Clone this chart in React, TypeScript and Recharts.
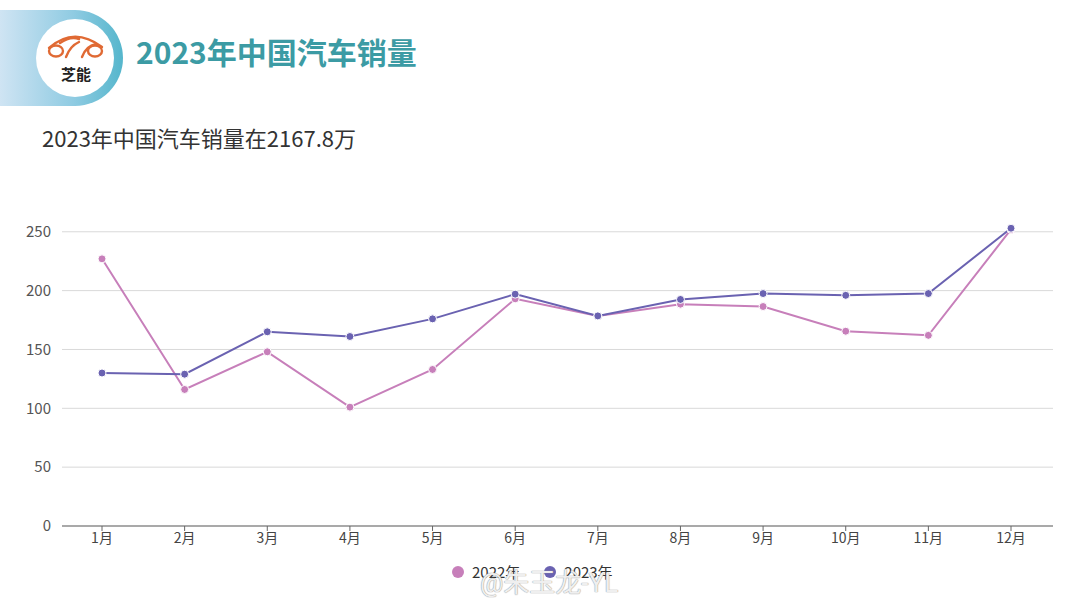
import React from "react"
import { LineChart, Line, XAxis, YAxis, CartesianGrid } from "recharts"

const months = ["1月", "2月", "3月", "4月", "5月", "6月", "7月", "8月", "9月", "10月", "11月", "12月"]
const sales2022 = [227, 116, 148, 101, 133, 193, 178.5, 188.5, 186.5, 165.5, 162, 252]
const sales2023 = [130, 129, 165, 161, 176, 197, 178.5, 192.5, 197.5, 196, 197.5, 253]
const yTicks = [0, 50, 100, 150, 200, 250]
const yMax = 260

const series = [
  { key: "y2022", name: "2022年", color: "#c77fba", values: sales2022 },
  { key: "y2023", name: "2023年", color: "#6a62b1", values: sales2023 },
]

const data = months.map((m, i) => ({ month: m, y2022: sales2022[i], y2023: sales2023[i] }))

const font = '"Noto Sans CJK SC", "Noto Sans", sans-serif'

function Logo() {
  return (
    <svg width={1080} height={120} style={{ position: "absolute", left: 0, top: 0 }}>
      <defs>
        <linearGradient id="band" x1="0" x2="1" y1="0" y2="0">
          <stop offset="0" stopColor="#cfe4f3" />
          <stop offset="0.6" stopColor="#8fcbe2" />
          <stop offset="1" stopColor="#55b6cc" />
        </linearGradient>
      </defs>
      <path d="M0 10 H75 A48 48 0 0 1 75 106 H0 Z" fill="url(#band)" />
      <circle cx={75} cy={58} r={39} fill="#ffffff" />
      <g fill="none" stroke="#e06a34" strokeWidth={2.4} strokeLinecap="round">
        <path d="M49 48 Q74 26 102 47" />
        <path d="M60 43 Q70 36 79 39" />
        <ellipse cx={56} cy={51} rx={7} ry={5.5} />
        <ellipse cx={95} cy={51} rx={7} ry={5.5} />
        <path d="M66 57 Q70 46 79 42" />
        <path d="M82 57 Q86 46 96 44" />
      </g>
      <text x={76} y={80} textAnchor="middle" fontFamily={font} fontSize={15} fontWeight={700} fill="#222">
        芝能
      </text>
      <text x={136} y={64} fontFamily={font} fontSize={30} fontWeight={700} fill="#3c9ba4">
        2023年中国汽车销量
      </text>
    </svg>
  )
}

export default function App() {
  return (
    <div style={{ position: "absolute", left: 0, top: 0, width: 1080, height: 604, background: "#fff", fontFamily: font, overflow: "hidden" }}>
      <Logo />
      <div style={{ position: "absolute", left: 42, top: 121, fontSize: 22, color: "#333", whiteSpace: "nowrap" }}>
        2023年中国汽车销量在2167.8万
      </div>
      <div style={{ position: "absolute", left: 0, top: 0 }}>
        <LineChart width={1080} height={604} data={data} margin={{ top: 220, right: 27, bottom: 48, left: 0 }}>
          <CartesianGrid
            vertical={false}
            stroke="#d9d9d9"
            horizontalCoordinatesGenerator={({ yAxis, offset }: any) =>
              yTicks.map((t) =>
                yAxis && typeof yAxis.scale === "function"
                  ? yAxis.scale(t)
                  : offset.top + offset.height * (1 - t / yMax)
              )
            }
          />
          <XAxis
            dataKey="month"
            padding={{ left: 40, right: 42 }}
            height={30}
            tick={{ fill: "#444", fontSize: 14, fontFamily: font }}
            tickSize={5}
            axisLine={{ stroke: "#666" }}
            tickLine={{ stroke: "#666" }}
          />
          <YAxis
            domain={[0, yMax]}
            ticks={yTicks}
            width={62}
            axisLine={false}
            tickLine={false}
            tickMargin={5}
            tick={{ fill: "#555", fontSize: 15, fontFamily: font }}
          />
          {series.map((s) => (
            <Line
              key={s.key}
              dataKey={s.key}
              name={s.name}
              stroke={s.color}
              strokeWidth={2}
              dot={{ r: 4, fill: s.color, stroke: "#fff", strokeWidth: 1 }}
              isAnimationActive={false}
            />
          ))}
        </LineChart>
      </div>
      <div style={{ position: "absolute", left: 452, top: 561, display: "flex", alignItems: "center", fontSize: 15, color: "#333" }}>
        {series.map((s) => (
          <div key={s.key} style={{ display: "flex", alignItems: "center", marginRight: 24 }}>
            <span style={{ width: 12, height: 12, borderRadius: 6, background: s.color, display: "inline-block", marginRight: 8 }} />
            {s.name}
          </div>
        ))}
      </div>
      <div
        style={{
          position: "absolute",
          left: 480,
          top: 562,
          fontSize: 26,
          fontFamily: "Roboto, 'Noto Sans CJK SC', sans-serif",
          color: "rgba(255,255,255,0.85)",
          textShadow: "0 0 1px #999, 0 0 1px #999",
          whiteSpace: "nowrap",
        }}
      >
        @朱玉龙-YL
      </div>
    </div>
  )
}
